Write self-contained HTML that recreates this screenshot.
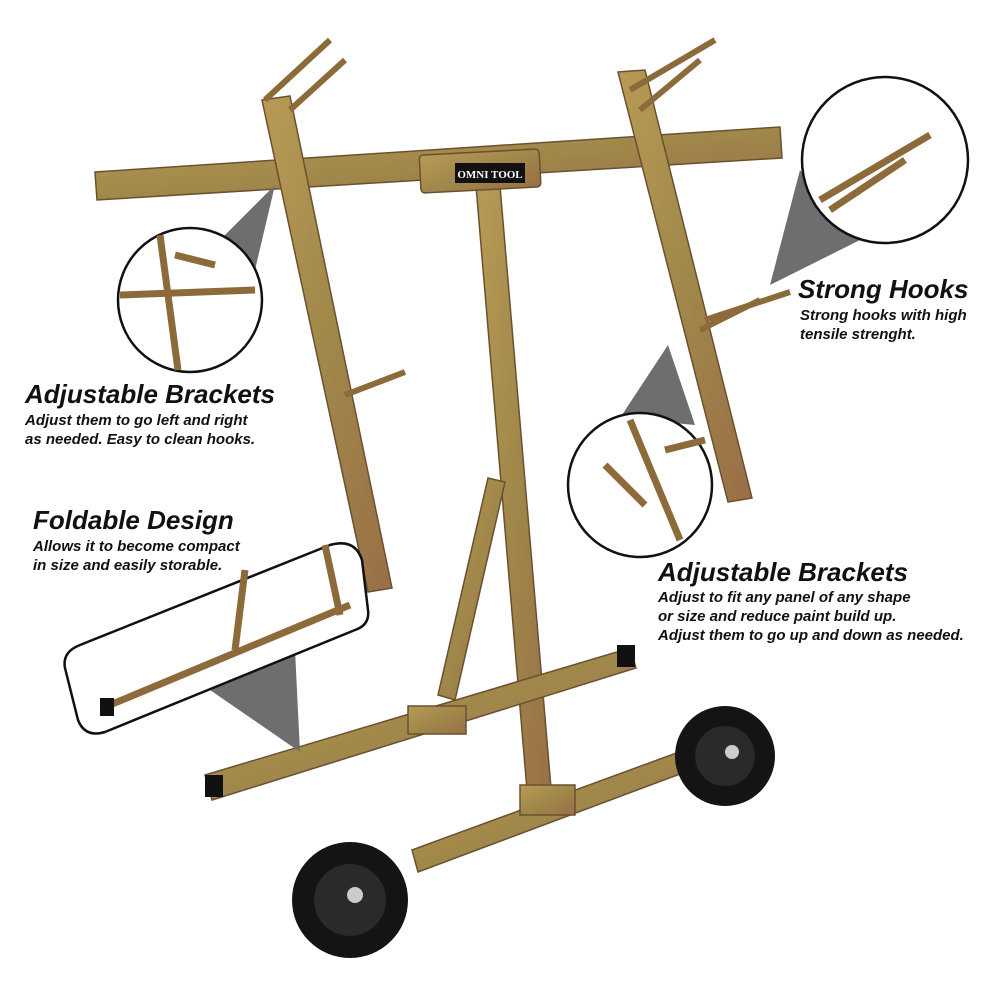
<!DOCTYPE html>
<html><head><meta charset="utf-8"><style>
html,body{margin:0;padding:0;background:#fff}
svg{display:block}
.h{font-family:"Liberation Sans",sans-serif;font-weight:bold;font-style:italic;fill:#111}
.s{font-family:"Liberation Sans",sans-serif;font-weight:bold;font-style:italic;fill:#111;font-size:15px}
</style></head><body>
<svg width="1000" height="1000" viewBox="0 0 1000 1000" xmlns="http://www.w3.org/2000/svg">
<defs>
<linearGradient id="m" x1="0" y1="0" x2="1" y2="1">
<stop offset="0" stop-color="#b89a55"/><stop offset="0.5" stop-color="#a0884a"/><stop offset="1" stop-color="#9a6e48"/>
</linearGradient>
</defs>
<g stroke="#6b5030" stroke-width="1.5" fill="url(#m)">
<polygon points="95,172 780,127 782,158 97,200"/>
<polygon points="262,100 290,96 392,588 368,592"/>
<polygon points="618,72 645,70 752,498 728,502"/>
<polygon points="476,186 500,186 552,800 528,802"/>
<polygon points="488,478 505,482 455,700 438,695"/>
<polygon points="205,775 630,648 636,668 212,800"/>
<polygon points="412,850 690,748 696,768 418,872"/>
<rect x="420" y="152" width="120" height="38" rx="4" transform="rotate(-3 480 170)"/>
<rect x="520" y="785" width="55" height="30"/>
<rect x="408" y="706" width="58" height="28"/>
<path d="M265,100 L330,40 M290,110 L345,60 M630,90 L715,40 M640,110 L700,60 M345,395 L405,372 M705,320 L790,292 M700,330 L760,300" stroke="#8c6a3a" stroke-width="6" fill="none"/>
</g>
<rect x="455" y="163" width="70" height="20" fill="#111"/>
<text x="490" y="178" font-family="Liberation Serif,serif" font-size="11" font-weight="bold" fill="#fff" text-anchor="middle">OMNI TOOL</text>
<rect x="205" y="775" width="18" height="22" fill="#111"/>
<rect x="617" y="645" width="18" height="22" fill="#111"/>
<circle cx="350" cy="900" r="58" fill="#141414"/>
<circle cx="350" cy="900" r="36" fill="#2a2a2a"/>
<circle cx="355" cy="895" r="8" fill="#ccc"/>
<circle cx="725" cy="756" r="50" fill="#141414"/>
<circle cx="725" cy="756" r="30" fill="#2a2a2a"/>
<circle cx="732" cy="752" r="7" fill="#ccc"/>
<polygon points="275,185 215,245 255,270" fill="#6e6e6e"/>
<polygon points="800,170 770,285 860,240" fill="#6e6e6e"/>
<polygon points="668,345 620,418 695,425" fill="#6e6e6e"/>
<polygon points="300,752 210,690 295,650" fill="#6e6e6e"/>
<circle cx="190" cy="300" r="72" fill="#fff" stroke="#111" stroke-width="2.5"/>
<circle cx="885" cy="160" r="83" fill="#fff" stroke="#111" stroke-width="2.5"/>
<circle cx="640" cy="485" r="72" fill="#fff" stroke="#111" stroke-width="2.5"/>
<g stroke="#8c6a3a" stroke-width="7" fill="none">
<path d="M120,295 L255,290 M160,235 L178,370 M175,255 L215,265"/>
<path d="M820,200 L930,135 M830,210 L905,160"/>
<path d="M630,420 L680,540 M605,465 L645,505 M665,450 L705,440"/>
</g>
<path d="M80,645 L330,545 Q355,538 362,560 L368,610 Q370,625 355,630 L105,732 Q85,738 78,720 L65,668 Q62,652 80,645 Z" fill="#fff" stroke="#111" stroke-width="2.5"/>
<g stroke="#8c6a3a" stroke-width="7" fill="none">
<path d="M110,705 L350,605 M245,570 L235,650 M325,545 L340,615"/>
</g>
<rect x="100" y="698" width="14" height="18" fill="#111"/>
<text class="h" x="25" y="403" font-size="26">Adjustable Brackets</text>
<text class="s" x="25" y="425">Adjust them to go left and right</text>
<text class="s" x="25" y="444">as needed. Easy to clean hooks.</text>
<text class="h" x="33" y="529" font-size="26">Foldable Design</text>
<text class="s" x="33" y="551">Allows it to become compact</text>
<text class="s" x="33" y="570">in size and easily storable.</text>
<text class="h" x="798" y="298" font-size="26">Strong Hooks</text>
<text class="s" x="800" y="320">Strong hooks with high</text>
<text class="s" x="800" y="339">tensile strenght.</text>
<text class="h" x="658" y="581" font-size="26">Adjustable Brackets</text>
<text class="s" x="658" y="602">Adjust to fit any panel of any shape</text>
<text class="s" x="658" y="621">or size and reduce paint build up.</text>
<text class="s" x="658" y="640">Adjust them to go up and down as needed.</text>
</svg>
</body></html>
